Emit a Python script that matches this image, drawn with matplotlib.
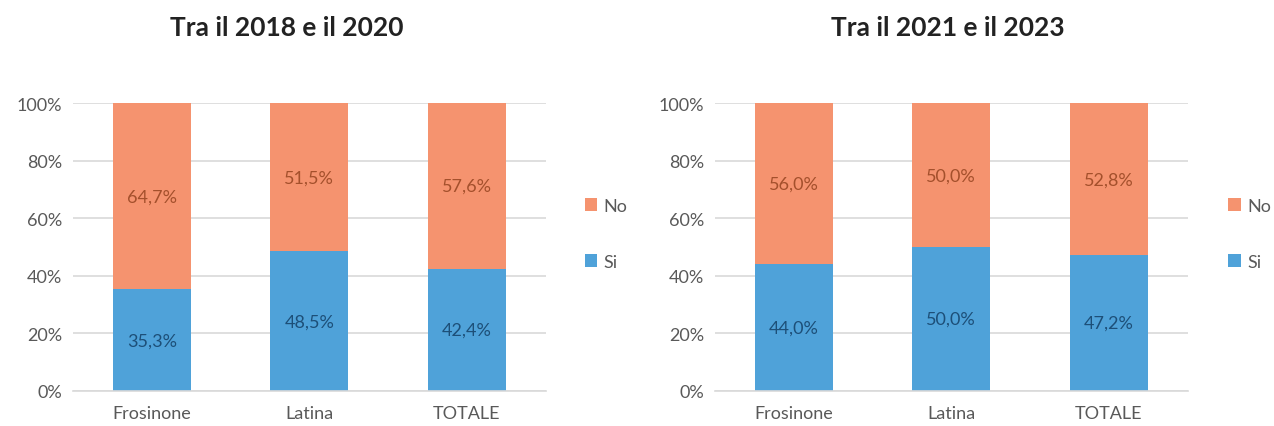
import numpy as np
import matplotlib.pyplot as plt

plt.rcParams['font.family'] = ['Lato', 'DejaVu Sans']

categorie = ['Frosinone', 'Latina', 'TOTALE']
titoli = ['Tra il 2018 e il 2020', 'Tra il 2021 e il 2023']
si_2018 = [35.3, 48.5, 42.4]
no_2018 = [64.7, 51.5, 57.6]
si_2021 = [44.0, 50.0, 47.2]
no_2021 = [56.0, 50.0, 52.8]

col_si = '#4FA2D9'
col_no = '#F5936F'
txt_si = '#1D4F78'
txt_no = '#A4502C'
grigio = '#595959'

fig = plt.figure(figsize=(12.74, 4.27), dpi=100)
pannelli = [(0.0573, si_2018, no_2018, titoli[0], 0.225, 0.459),
            (0.5612, si_2021, no_2021, titoli[1], 0.744, 0.964)]

for x0, si, no, titolo, tx, lx in pannelli:
    ax = fig.add_axes([x0, 0.082, 0.371, 0.674])
    x = np.arange(len(categorie))
    b1 = ax.bar(x, si, width=0.495, color=col_si, label='Si', zorder=2)
    b2 = ax.bar(x, no, bottom=si, width=0.495, color=col_no, label='No', zorder=2)
    for i in range(len(categorie)):
        ax.text(x[i], si[i] / 2, f'{si[i]:.1f}%'.replace('.', ','),
                ha='center', va='center', fontsize=13, color=txt_si)
        ax.text(x[i], si[i] + no[i] / 2, f'{no[i]:.1f}%'.replace('.', ','),
                ha='center', va='center', fontsize=13, color=txt_no)
    ax.set_xlim(-0.5, 2.5)
    ax.set_ylim(0, 100)
    ax.set_yticks(np.arange(0, 101, 20))
    ax.set_yticklabels([f'{v}%' for v in range(0, 101, 20)])
    ax.yaxis.grid(True, color='#D9D9D9', linewidth=1.2, zorder=0)
    ax.set_axisbelow(True)
    ax.set_xticks(x)
    ax.set_xticklabels(categorie)
    ax.tick_params(axis='both', length=0, labelsize=13, colors=grigio)
    ax.tick_params(axis='x', pad=10)
    ax.tick_params(axis='y', pad=8)
    for s in ['top', 'right', 'left']:
        ax.spines[s].set_visible(False)
    ax.spines['bottom'].set_color('#D9D9D9')
    ax.spines['bottom'].set_linewidth(1.2)
    fig.text(tx, 0.935, titolo, ha='center', va='center', fontsize=19,
             fontweight='bold', color='#222222')
    leg = fig.legend([b2, b1], ['No', 'Si'], loc='center left',
                     bbox_to_anchor=(lx, 0.45), frameon=False, fontsize=13,
                     handlelength=0.7, handleheight=0.7, handletextpad=0.35,
                     labelspacing=2.2, borderaxespad=0, borderpad=0)
    for t in leg.get_texts():
        t.set_color(grigio)

fig.savefig('out.png', dpi=100)
